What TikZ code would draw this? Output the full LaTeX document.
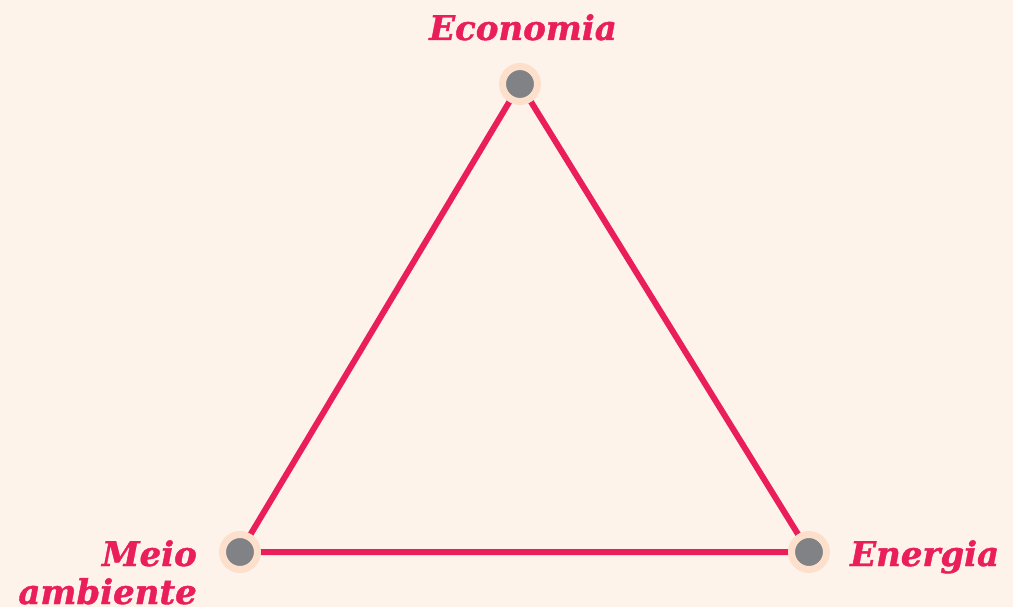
\documentclass[tikz,border=0pt]{standalone}
\usepackage{fontspec}
\setmainfont{DejaVu Serif}[BoldItalicFeatures={FakeBold=1.2}]
\definecolor{bgc}{HTML}{FEF3EA}
\definecolor{crim}{HTML}{E91E5A}
\definecolor{ringc}{HTML}{FDE0CC}
\definecolor{dotc}{HTML}{808285}
\tikzset{
  edge/.style={crim, line width=6pt},
  vtx/.style={circle, fill=dotc, draw=ringc, line width=7pt, minimum size=35pt, inner sep=0pt},
  lbl/.style={text=crim, font=\fontsize{34}{38}\selectfont\bfseries\itshape, inner sep=0pt}
}
\begin{document}
\begin{tikzpicture}[x=1pt,y=-1pt]
\fill[bgc] (0,0) rectangle (1013,607);
\useasboundingbox (0,0) rectangle (1013,607);
\coordinate (A) at (520,84);
\coordinate (B) at (240,552);
\coordinate (C) at (809,552);
\draw[edge] (A) -- (B) -- (C) -- cycle;
\node[vtx] (na) at (A) {};
\node[vtx] (nb) at (B) {};
\node[vtx] (nc) at (C) {};
\node[lbl, anchor=base] (ta) at (523,40) {Economia};
\node[lbl, anchor=base east, align=right] (tb) at (197,604) {Meio\\ambiente};
\node[lbl, anchor=base west] (tc) at (850,566) {Energia};
\end{tikzpicture}
\end{document}
